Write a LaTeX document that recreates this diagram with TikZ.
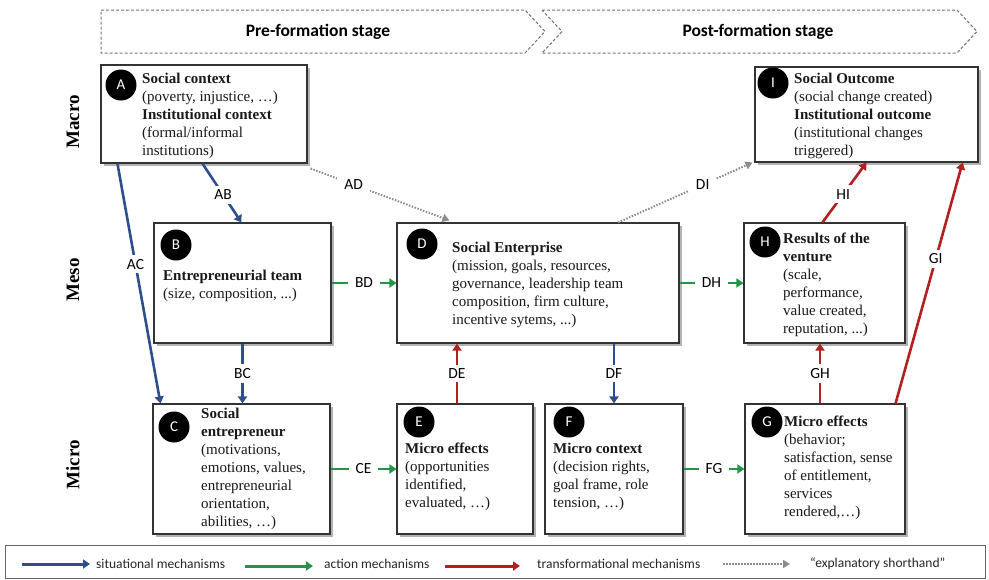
\documentclass[tikz,border=0pt]{standalone}
\usepackage{fontspec}
\setmainfont{Liberation Serif}
\newfontfamily\calf{Carlito}
\usetikzlibrary{arrows.meta,shadows,calc}
\definecolor{mblue}{RGB}{47,79,140}
\definecolor{mgreen}{RGB}{34,150,72}
\definecolor{mred}{RGB}{178,32,32}
\definecolor{mgray}{RGB}{140,140,140}
\newcommand\myfl{\rule{0pt}{12pt}}
\begin{document}
\begin{tikzpicture}[x=1pt,y=-1pt,
  box/.style={draw=black!80, line width=1.1pt, fill=white, inner sep=0pt,
    drop shadow={shadow xshift=2.5pt, shadow yshift=-2.5pt, fill=black!50, opacity=0.6}},
  txt/.style={anchor=north west, inner sep=0pt, align=left, text=black!90,
    font=\fontsize{15}{18}\selectfont},
  badge/.style={circle, fill=black, minimum size=31pt, inner sep=0pt, text=white,
    font=\calf\fontsize{15}{15}\selectfont},
  lvl/.style={rotate=90, font=\bfseries\fontsize{19}{19}\selectfont},
  banner/.style={draw=black!55, line width=1pt, dash pattern=on 3pt off 2pt},
  bannertxt/.style={font=\calf\bfseries\fontsize{17.5}{17.5}\selectfont},
  lbl/.style={fill=white, inner xsep=7pt, inner ysep=4pt, text=black,
    font=\calf\fontsize{15.5}{15.5}\selectfont},
  sit/.style={draw=mblue, line width=2.6pt, -{Triangle[length=7pt,width=9pt]}},
  act/.style={draw=mgreen, line width=2.6pt, -{Triangle[length=7pt,width=9pt]}},
  tra/.style={draw=mred, line width=2.6pt, -{Triangle[length=7pt,width=9pt]}},
  sho/.style={draw=mgray, line width=2pt, dash pattern=on 1.5pt off 1.5pt, -{Triangle[length=7pt,width=8pt]}},
  legtxt/.style={anchor=west, inner sep=0pt, text=black!85, font=\calf\fontsize{13.5}{14}\selectfont}
]
\useasboundingbox (0,0) rectangle (989,579);

% banners
\draw[banner] (101,10) -- (525,10) -- (545,31.5) -- (525,53) -- (101,53) -- cycle;
\node[bannertxt] (pre) at (318,32) {Pre-formation stage};
\draw[banner] (542,10) -- (957,10) -- (977,31.5) -- (957,53) -- (542,53) -- (562,31.5) -- cycle;
\node[bannertxt] (post) at (758,32) {Post-formation stage};

% level labels
\node[lvl] (macro) at (73,122) {Macro};
\node[lvl] (meso) at (73,280) {Meso};
\node[lvl] (micro) at (73,465) {Micro};

% boxes
\node[box, minimum width=206pt, minimum height=98pt] (A) at (204,114) {};
\node[box, minimum width=223pt, minimum height=95pt] (I) at (866.5,114.5) {};
\node[box, minimum width=177pt, minimum height=120pt] (B) at (242.5,283) {};
\node[box, minimum width=282pt, minimum height=120pt] (D) at (538,283) {};
\node[box, minimum width=161pt, minimum height=120pt] (H) at (824.5,283) {};
\node[box, minimum width=177pt, minimum height=130pt] (C) at (241.5,469) {};
\node[box, minimum width=136pt, minimum height=130pt] (E) at (465,469) {};
\node[box, minimum width=138pt, minimum height=130pt] (F) at (614,469) {};
\node[box, minimum width=160pt, minimum height=130pt] (G) at (825,469) {};

% badges
\node[badge] (cA) at (121,85) {A};
\node[badge] (cI) at (773,83) {I};
\node[badge] (cB) at (176,245) {B};
\node[badge] (cD) at (422,244) {D};
\node[badge] (cH) at (765,242) {H};
\node[badge] (cC) at (174,427) {C};
\node[badge] (cE) at (419,422) {E};
\node[badge] (cF) at (569,422) {F};
\node[badge] (cG) at (767,422) {G};

% texts
\node[txt] (tA) at (142,71) {\myfl\textbf{Social context}\\(poverty, injustice, …)\\\textbf{Institutional context}\\(formal/informal\\institutions)};
\node[txt] (tI) at (794,71) {\myfl\textbf{Social Outcome}\\(social change created)\\\textbf{Institutional outcome}\\(institutional changes\\triggered)};
\node[txt] (tB) at (163,268) {\myfl\textbf{Entrepreneurial team}\\(size, composition, ...)};
\node[txt] (tD) at (452,240) {\myfl\textbf{Social Enterprise}\\(mission, goals, resources,\\governance, leadership team\\composition, firm culture,\\incentive sytems, ...)};
\node[txt] (tH) at (783,231) {\myfl\textbf{Results of the}\\\textbf{venture}\\(scale,\\performance,\\value created,\\reputation, ...)};
\node[txt] (tC) at (201,406) {\myfl\textbf{Social}\\\textbf{entrepreneur}\\(motivations,\\emotions, values,\\entrepreneurial\\orientation,\\abilities, …)};
\node[txt] (tE) at (405,441) {\myfl\textbf{Micro effects}\\(opportunities\\identified,\\evaluated, …)};
\node[txt] (tF) at (553,441) {\myfl\textbf{Micro context}\\(decision rights,\\goal frame, role\\tension, …)};
\node[txt] (tG) at (784,414) {\myfl\textbf{Micro effects}\\(behavior;\\satisfaction, sense\\of entitlement,\\services\\rendered,…)};

% connectors
\coordinate (eTop) at ($(E.north)+(-8,0)$);
\coordinate (gTop) at ($(G.north)+(-5,0)$);
\draw[sit] ($(A.south west)+(17,0)$) -- node[lbl, pos=0.42] (lAC) {AC} ($(C.north west)+(8,0)$);
\draw[sit] ($(A.south west)+(102,0)$) -- node[lbl, pos=0.53] (lAB) {AB} ($(B.north west)+(88,0)$);
\draw[sho] ($(A.south east)+(3,5)$) -- node[lbl, pos=0.31] (lAD) {AD} ($(D.north west)+(53,-2)$);
\draw[sit] (B.south) -- node[lbl] (lBC) {BC} (B.south |- C.north);
\draw[act] (B.east) -- node[lbl] (lBD) {BD} (D.west);
\draw[tra] (eTop) -- node[lbl] (lDE) {DE} (eTop |- D.south);
\draw[sit] (F.north |- D.south) -- node[lbl] (lDF) {DF} (F.north);
\draw[act] (D.east) -- node[lbl] (lDH) {DH} (H.west);
\draw[act] (C.east) -- node[lbl] (lCE) {CE} (E.west);
\draw[act] (F.east) -- node[lbl] (lFG) {FG} (G.west);
\draw[tra] (gTop) -- node[lbl] (lGH) {GH} (gTop |- H.south);
\draw[tra] ($(H.north west)+(79,0)$) -- node[lbl, pos=0.47] (lHI) {HI} ($(I.south west)+(112,0)$);
\draw[tra] ($(G.north east)+(-10,0)$) -- node[lbl, pos=0.6] (lGI) {GI} ($(I.south east)+(-16,0)$);
\draw[sho] ($(D.north)+(80,0)$) -- node[lbl, pos=0.63] (lDI) {DI} ($(I.south west)+(-2,0)$);

% legend
\node[draw=black!60, line width=1pt, minimum width=980pt, minimum height=33pt, inner sep=0pt] (leg) at (495,561.5) {};
\coordinate (l1a) at (22,564); \coordinate (l1b) at (90,564);
\coordinate (l2a) at (245,566); \coordinate (l2b) at (313,566);
\coordinate (l3a) at (445,566); \coordinate (l3b) at (520,566);
\coordinate (l4a) at (723,564); \coordinate (l4b) at (790,564);
\draw[sit, line width=3pt] (l1a) -- (l1b);
\draw[act, line width=3pt] (l2a) -- (l2b);
\draw[tra, line width=3pt] (l3a) -- (l3b);
\draw[sho] (l4a) -- (l4b);
\node[legtxt] (t1) at (96,564) {situational mechanisms};
\node[legtxt] (t2) at (324,564) {action mechanisms};
\node[legtxt] (t3) at (537,564) {transformational mechanisms};
\node[legtxt] (t4) at (810,564) {“explanatory shorthand”};
\end{tikzpicture}
\end{document}
